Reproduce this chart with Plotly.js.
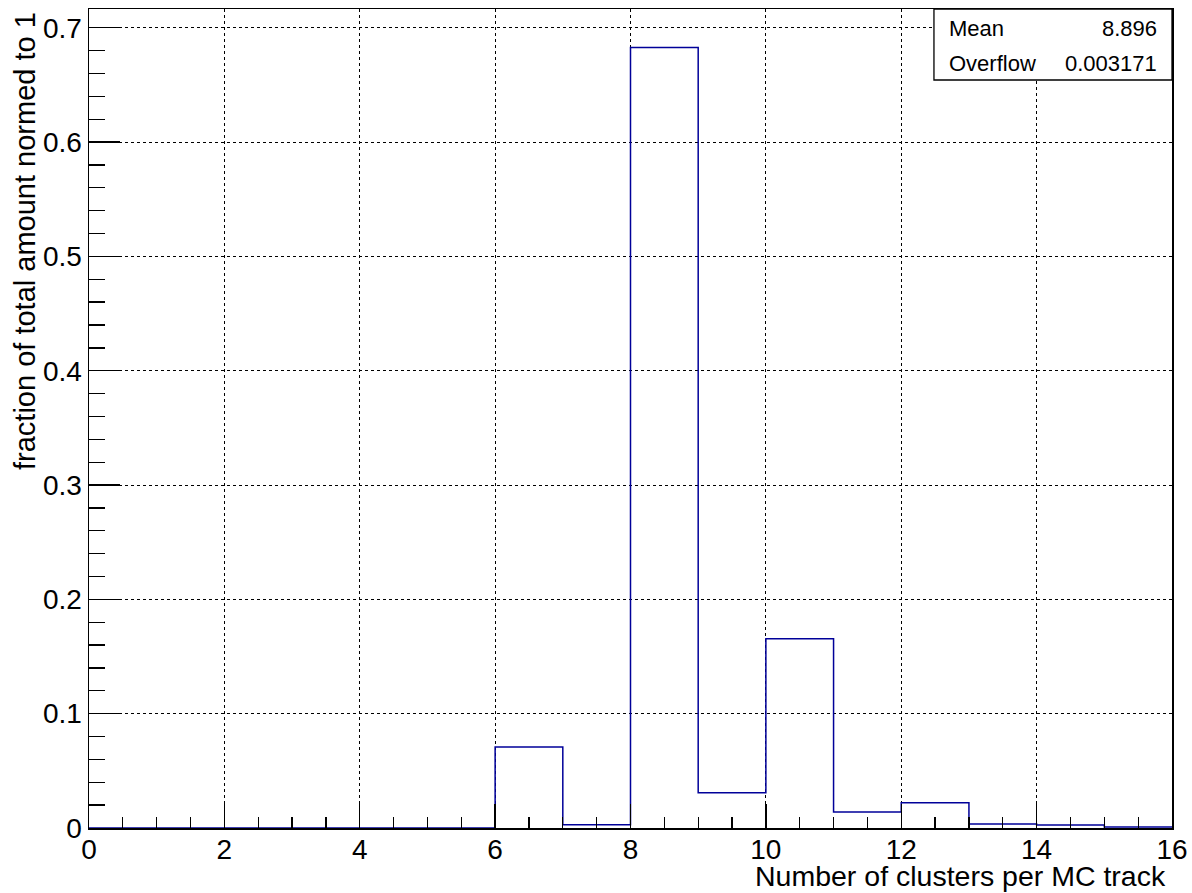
<!DOCTYPE html>
<html>
<head>
<meta charset="utf-8">
<script src="https://cdn.plot.ly/plotly-3.0.1.min.js"></script>
<style>html,body{margin:0;padding:0;background:#fff;}#chart{width:1192px;height:893px;}</style>
</head>
<body>
<div id="chart"></div>
<script>
// Histogram data: bin edges and bin contents (fraction of total)
const binEdges = [0,1,2,3,4,5,6,7,8,9,10,11,12,13,14,15,16];
const fractions = [0,0,0,0,0,0,0.0708,0.0029,0.6827,0.0309,0.1655,0.0140,0.0221,0.0035,0.0026,0.0008];
const statLabels = ["Mean", "Overflow"];
const statValues = ["8.896", "0.003171"];
const xTitle = "Number of clusters per MC track";
const yTitle = "fraction of total amount normed to 1";

const stepY = fractions.concat([fractions[fractions.length - 1]]);

const FONT = "Liberation Sans, Arial, Helvetica, sans-serif";

const trace = {
  type: "scatter",
  mode: "lines",
  x: binEdges,
  y: stepY,
  line: {shape: "hv", color: "#000099", width: 1.5},
  hoverinfo: "x+y",
  showlegend: false
};

const annotations = [
  {text: xTitle, xref: "paper", yref: "paper", x: 1, y: 0, xanchor: "right", yanchor: "middle",
   xshift: -4, yshift: -48, showarrow: false, font: {family: FONT, size: 28.5, color: "#000"}},
  {text: yTitle, xref: "paper", yref: "paper", x: 0, y: 1, xanchor: "center", yanchor: "top",
   xshift: -64, yshift: -1, textangle: -90, showarrow: false, font: {family: FONT, size: 29, color: "#000"}}
];
const statY = [0.9756, 0.934];
statLabels.forEach(function (lab, i) {
  annotations.push({text: lab, xref: "paper", yref: "paper", x: 0.7922, y: statY[i], xanchor: "left", yanchor: "middle",
    showarrow: false, font: {family: FONT, size: 22, color: "#000"}});
  annotations.push({text: statValues[i], xref: "paper", yref: "paper", x: 0.988, y: statY[i], xanchor: "right", yanchor: "middle",
    showarrow: false, font: {family: FONT, size: 22, color: "#000"}});
});

const layout = {
  width: 1192, height: 893,
  margin: {l: 89, r: 20, t: 9, b: 65, pad: 0},
  paper_bgcolor: "#fff", plot_bgcolor: "#fff",
  showlegend: false,
  xaxis: {
    range: [0, 16], dtick: 2, tick0: 0,
    ticks: "inside", ticklen: 24, tickwidth: 1.3, tickcolor: "#000",
    showline: true, linecolor: "#000", linewidth: 1.5, mirror: true,
    showgrid: true, gridcolor: "#000", griddash: "dot", gridwidth: 1,
    zeroline: false,
    tickfont: {family: FONT, size: 28, color: "#000"},
    ticklabelstandoff: -4,
    minor: {dtick: 0.5, ticks: "inside", ticklen: 11, tickwidth: 1.3, tickcolor: "#000", showgrid: false},
    fixedrange: true
  },
  yaxis: {
    range: [0, 0.7164], dtick: 0.1, tick0: 0,
    ticks: "inside", ticklen: 31, tickwidth: 1.3, tickcolor: "#000",
    showline: true, linecolor: "#000", linewidth: 1.5, mirror: true,
    showgrid: true, gridcolor: "#000", griddash: "dot", gridwidth: 1,
    zeroline: false,
    tickfont: {family: FONT, size: 28, color: "#000"},
    minor: {dtick: 0.02, ticks: "inside", ticklen: 16, tickwidth: 1.3, tickcolor: "#000", showgrid: false},
    fixedrange: true
  },
  shapes: [
    {type: "rect", xref: "paper", yref: "paper", x0: 0.7802, x1: 1, y0: 0.9133, y1: 1,
     fillcolor: "#fff", line: {color: "#000", width: 1.3}, layer: "above"}
  ],
  annotations: annotations
};

Plotly.newPlot("chart", [trace], layout, {displayModeBar: false, staticPlot: true});
</script>
</body>
</html>
